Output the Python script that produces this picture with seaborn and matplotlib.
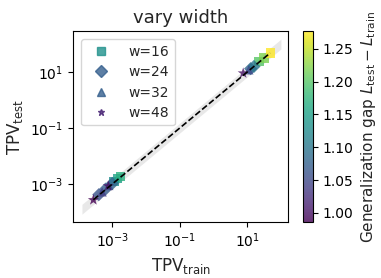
import numpy as np
import pandas as pd
import matplotlib
matplotlib.use("Agg")
from matplotlib import pyplot as plt
from matplotlib.lines import Line2D
import seaborn as sns

# donnees (TPV train / test, ecart de generalisation)
widths = [16, 24, 32, 48]
markers = ["s", "D", "^", "*"]

tpv_train_16 = [1.12e-3, 1.41e-3, 1.78e-3, 22.4, 31.6, 47.9]
tpv_test_16 = [1.26e-3, 1.58e-3, 1.90e-3, 24.0, 31.6, 47.9]
gap_16 = [1.13, 1.15, 1.17, 1.20, 1.22, 1.277]

tpv_train_24 = [3.98e-4, 6.3e-4, 1.0e-3, 12.6, 15.8]
tpv_test_24 = [4.17e-4, 6.6e-4, 1.05e-3, 13.2, 15.8]
gap_24 = [1.06, 1.07, 1.08, 1.08, 1.10]

tpv_train_32 = [5.0e-4, 7.9e-4, 11.2]
tpv_test_32 = [5.25e-4, 8.9e-4, 12.0]
gap_32 = [1.04, 1.05, 1.05]

tpv_train_48 = [2.75e-4, 7.6e-4, 7.6]
tpv_test_48 = [2.7e-4, 8.5e-4, 9.1]
gap_48 = [0.986, 1.00, 1.00]

frames = []
for w, tr, te, g in zip(widths,
                        [tpv_train_16, tpv_train_24, tpv_train_32, tpv_train_48],
                        [tpv_test_16, tpv_test_24, tpv_test_32, tpv_test_48],
                        [gap_16, gap_24, gap_32, gap_48]):
    frames.append(pd.DataFrame({"w": w, "train": tr, "test": te, "gap": g}))
df = pd.concat(frames, ignore_index=True)

sns.set_style("ticks")
plt.rcParams["font.family"] = ["DejaVu Sans"]

fig = plt.figure(figsize=(3.81, 2.78), dpi=100)
ax = fig.add_axes([0.192, 0.201, 0.564, 0.687])
cax = fig.add_axes([0.795, 0.201, 0.026, 0.687])

vmin, vmax = df["gap"].min(), df["gap"].max()
norm = matplotlib.colors.Normalize(vmin=vmin, vmax=vmax)
cmap = plt.get_cmap("viridis")

# bande grise autour de y = x
xb = np.logspace(-3.9, 2.0, 50)
ax.fill_between(xb, xb / 1.5, xb * 1.5, color="lightgray", alpha=0.5, lw=0, zorder=0)

# couleur des symboles de la legende (position dans viridis)
legend_pos = [0.5, 0.3, 0.3, 0.1]
handles = []
for w, m, p in zip(widths, markers, legend_pos):
    sub = df[df["w"] == w]
    sns.scatterplot(data=sub, x="train", y="test", hue="gap", palette="viridis",
                    hue_norm=norm, marker=m, s=70 if m == "*" else 45,
                    alpha=0.8, linewidth=0, legend=False, ax=ax, zorder=2)
    handles.append(Line2D([], [], linestyle="none", marker=m, color=cmap(p), alpha=0.8,
                          markersize=5 if m == "*" else 6, label=f"w={w}"))

lo, hi = df["train"].min(), df["train"].max()
ax.plot([lo, hi], [lo, hi], "k--", lw=1.2, zorder=3)

ax.set_xscale("log")
ax.set_yscale("log")
ax.set_xlim(10 ** -4.16, 10 ** 2.21)
ax.set_ylim(10 ** -4.36, 10 ** 2.46)
ax.xaxis.set_major_locator(matplotlib.ticker.FixedLocator([1e-3, 1e-1, 1e1]))
ax.yaxis.set_major_locator(matplotlib.ticker.FixedLocator([1e-3, 1e-1, 1e1]))
ax.xaxis.set_minor_locator(matplotlib.ticker.NullLocator())
ax.yaxis.set_minor_locator(matplotlib.ticker.NullLocator())
ax.tick_params(labelsize=10, colors="black")
for s in ax.spines.values():
    s.set_color("black")

ax.set_title("vary width", fontsize=13)
ax.set_xlabel(r"TPV$_{\mathrm{train}}$", fontsize=12)
ax.set_ylabel(r"TPV$_{\mathrm{test}}$", fontsize=12)
ax.legend(handles=handles, loc="upper left", fontsize=10, handletextpad=1.0,
          labelspacing=0.45, borderaxespad=0.6)

sm = matplotlib.cm.ScalarMappable(norm=norm, cmap=cmap)
cb = fig.colorbar(sm, cax=cax, alpha=0.8)
cb.set_ticks([1.00, 1.05, 1.10, 1.15, 1.20, 1.25])
cb.ax.tick_params(labelsize=10, colors="black")
cb.outline.set_edgecolor("black")
cb.set_label(r"Generalization gap $L_{\mathrm{test}} - L_{\mathrm{train}}$", fontsize=11)

fig.savefig("out.png", dpi=100)
